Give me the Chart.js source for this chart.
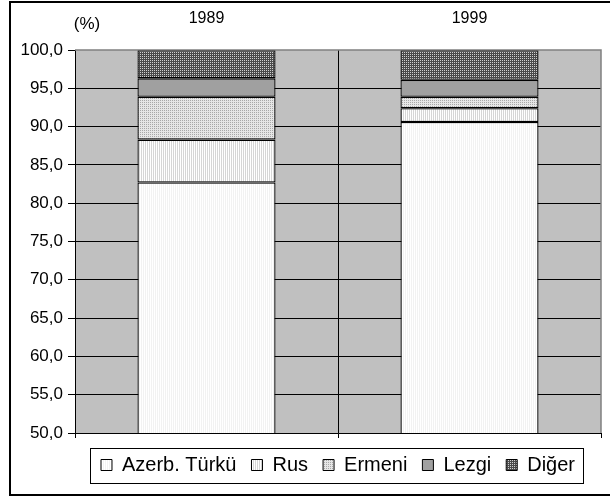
<!DOCTYPE html>
<html>
<head>
<meta charset="utf-8">
<script src="https://cdn.jsdelivr.net/npm/chart.js@4/dist/chart.umd.min.js"></script>
<style>
  body { margin: 0; background: #fff; }
  #wrap { width: 610px; height: 497px; }
</style>
</head>
<body>
<div id="wrap"><canvas id="nufusChart" width="610" height="497"></canvas></div>
<script>
const categories = ['1989', '1999'];
const azerbTurku = [82.7, 90.6];
const rus = [5.6, 1.8];
const ermeni = [5.6, 1.5];
const lezgi = [2.4, 2.2];
const diger = [3.7, 3.9];
const yMin = 50, yMax = 100, yStep = 5;

const FONT = '"Liberation Sans", Arial, sans-serif';

// small tiles to mimic the old Excel fill patterns
function makePattern(rows) {
    const c = document.createElement('canvas');
    c.width = rows[0].length;
    c.height = rows.length;
    const g = c.getContext('2d');
    rows.forEach((row, y) => {
      row.forEach((col, x) => {
        g.fillStyle = col;
        g.fillRect(x, y, 1, 1);
      });
    });
    return g.createPattern(c, 'repeat');
  }

const fills = {
    azerb: makePattern([['#ffffff', '#f2f2f2']]),
    rus: makePattern([['#ffffff', '#d6d6d6']]),
    ermeni: makePattern([['#a8a8a8', '#e6e6e6'], ['#e6e6e6', '#e6e6e6']]),
    lezgi: '#a0a0a0',
    diger: makePattern([['#d0d0d0', '#4a4a4a'], ['#4a4a4a', '#4a4a4a']])
  };

function seg(label, data, fill) {
    return {
      label: label,
      data: data,
      backgroundColor: fill,
      borderColor: '#000',
      borderWidth: 1.3,
      borderSkipped: false,
      categoryPercentage: 1,
      barPercentage: 0.525
    };
  }

const framePlugin = {
    id: 'frame',
    beforeDraw(chart) {
      const { ctx, chartArea: a } = chart;
      ctx.save();
      ctx.fillStyle = '#c0c0c0';
      ctx.fillRect(a.left, a.top, a.right - a.left, a.bottom - a.top);
      ctx.restore();
    },
    afterDraw(chart) {
      const { ctx, chartArea: a } = chart;
      ctx.save();
      // gray top/right edge of plot
      ctx.strokeStyle = '#808080';
      ctx.lineWidth = 1.5;
      ctx.beginPath();
      ctx.moveTo(a.left, a.top);
      ctx.lineTo(a.right, a.top);
      ctx.lineTo(a.right, a.bottom);
      ctx.stroke();
      // (%) label
      ctx.fillStyle = '#000';
      ctx.font = '17px ' + FONT;
      ctx.textAlign = 'center';
      ctx.textBaseline = 'alphabetic';
      ctx.fillText('(%)', a.left + 12, 29);
      // legend box
      const boxes = chart.legend.legendHitBoxes;
      if (boxes && boxes.length) {
        const l = Math.min(...boxes.map(b => b.left)) - 11;
        const r = Math.max(...boxes.map(b => b.left + b.width)) + 8;
        const cy = boxes[0].top + boxes[0].height / 2;
        ctx.strokeStyle = '#000';
        ctx.lineWidth = 1;
        ctx.strokeRect(Math.round(l) + 0.5, Math.round(cy - 17.5) + 0.5, Math.round(r - l), 35);
      }
      // outer chart border
      ctx.lineWidth = 2;
      ctx.strokeRect(10, 2, 620, 493);
      ctx.restore();
    }
  };

new Chart(document.getElementById('nufusChart').getContext('2d'), {
    type: 'bar',
    data: {
      labels: categories,
      datasets: [
        seg('Azerb. Türkü', azerbTurku, fills.azerb),
        seg('Rus', rus, fills.rus),
        seg('Ermeni', ermeni, fills.ermeni),
        seg('Lezgi', lezgi, fills.lezgi),
        seg('Diğer', diger, fills.diger)
      ]
    },
    options: {
      responsive: false,
      animation: false,
      layout: { padding: { left: 0, right: 9, top: 0, bottom: 12 } },
      plugins: {
        tooltip: { enabled: false },
        legend: {
          position: 'bottom',
          fullSize: false,
          labels: {
            color: '#000',
            font: { family: FONT, size: 20 },
            boxWidth: 11,
            boxHeight: 11,
            padding: 15,
            generateLabels(chart) {
              return chart.data.datasets.map((ds, i) => ({
                text: ds.label,
                fillStyle: ds.backgroundColor,
                strokeStyle: '#000',
                lineWidth: 1,
                fontColor: '#000',
                datasetIndex: i
              }));
            }
          }
        }
      },
      scales: {
        x: {
          position: 'top',
          stacked: true,
          border: { display: false },
          grid: {
            offset: true,
            drawTicks: false,
            color: ctx => ctx.index === 1 ? '#000' : 'rgba(0,0,0,0)'
          },
          ticks: { color: '#000', font: { family: FONT, size: 16 }, padding: 22 },
          afterFit: axis => { axis.height = 50; }
        },
        x2: {
          position: 'bottom',
          labels: categories,
          border: { display: true, color: '#000', width: 1 },
          grid: { offset: true, drawOnChartArea: false, tickLength: 5, tickColor: '#000' },
          ticks: { display: false },
          afterFit: axis => { axis.height = 7; }
        },
        y: {
          stacked: true,
          min: yMin,
          max: yMax,
          border: { display: true, color: '#000', width: 1 },
          grid: {
            color: ctx => ctx.tick && ctx.tick.value === yMax ? 'rgba(0,0,0,0)' : '#000',
            tickColor: '#000',
            tickLength: 7
          },
          ticks: {
            stepSize: yStep,
            color: '#000',
            padding: 5,
            font: { family: FONT, size: 17 },
            callback: v => v.toFixed(1).replace('.', ',')
          },
          afterFit: axis => { axis.width = 75; }
        }
      }
    },
    plugins: [framePlugin]
  });
</script>
</body>
</html>
